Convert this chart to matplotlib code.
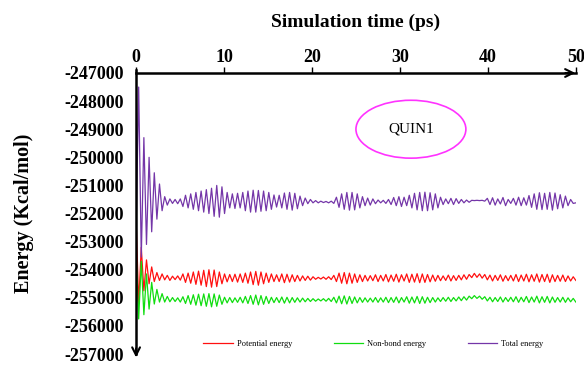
import numpy as np
import matplotlib
matplotlib.use('Agg')
import matplotlib.pyplot as plt
from matplotlib.patches import Ellipse

plt.rcParams['font.family'] = ['Liberation Serif', 'DejaVu Serif']
plt.rcParams['axes.unicode_minus'] = False

# energies, one value per half oscillation (kcal/mol)
potential = [-252150, -255200, -253200, -254750, -253650, -254500, -253900, -254420, -254100, -254380, -254150, -254360, -254200, -254380, -254230, -254350, -254220, -254370,
             -254150, -254450, -254120, -254480, -254080, -254520, -254050, -254550, -254020, -254600, -254000, -254620, -254010, -254600, -254080, -254500, -254150, -254430,
             -254170, -254420, -254160, -254440, -254150, -254450, -254120, -254480, -254080, -254530, -254060, -254550, -254080, -254500, -254120, -254450, -254150, -254420,
             -254180, -254420, -254150, -254460, -254160, -254440, -254180, -254420, -254200, -254400, -254220, -254380, -254230, -254370, -254250, -254340, -254270, -254330,
             -254260, -254340, -254250, -254350, -254200, -254420, -254120, -254480, -254100, -254500, -254120, -254480, -254150, -254450, -254180, -254420, -254200, -254400,
             -254210, -254390, -254180, -254420, -254200, -254400, -254170, -254430, -254190, -254410, -254160, -254440, -254180, -254400, -254150, -254450, -254160, -254440,
             -254140, -254460, -254150, -254450, -254170, -254430, -254190, -254410, -254200, -254390, -254220, -254380, -254190, -254400, -254210, -254380, -254200, -254360,
             -254180, -254340, -254170, -254280, -254130, -254270, -254150, -254300, -254170, -254360, -254190, -254400, -254200, -254380, -254180, -254410, -254210, -254390,
             -254200, -254400, -254170, -254420, -254190, -254400, -254160, -254430, -254180, -254410, -254150, -254440, -254170, -254420, -254160, -254450, -254180, -254420,
             -254200, -254410, -254190, -254420, -254220, -254400, -254250, -254380]

nonbond = [-253400, -255750, -253700, -255600, -254150, -255400, -254450, -255220, -254700, -255150, -254850, -255150, -254950, -255140, -254990, -255130, -255000, -255150,
           -254960, -255200, -254920, -255230, -254890, -255260, -254870, -255280, -254860, -255300, -254850, -255320, -254860, -255300, -254900, -255230, -254980, -255180,
           -254990, -255170, -255000, -255160, -254980, -255180, -254950, -255200, -254920, -255230, -254900, -255250, -254920, -255230, -254950, -255200, -254980, -255170,
           -254990, -255170, -254970, -255190, -254980, -255180, -254990, -255160, -255000, -255150, -255010, -255140, -255020, -255130, -255030, -255120, -255040, -255110,
           -255030, -255120, -255020, -255130, -254980, -255180, -254940, -255210, -254930, -255220, -254950, -255200, -254970, -255180, -254990, -255160, -255000, -255150,
           -255010, -255150, -254990, -255160, -255000, -255150, -254980, -255170, -254990, -255160, -254970, -255180, -254990, -255150, -254960, -255190, -254970, -255180,
           -254950, -255200, -254960, -255190, -254980, -255170, -254990, -255150, -255000, -255130, -254990, -255120, -254980, -255130, -254990, -255110, -254970, -255100,
           -254960, -255080, -254940, -255030, -254920, -255020, -254940, -255050, -254960, -255110, -254980, -255140, -254990, -255130, -254970, -255150, -254990, -255130,
           -254980, -255140, -254960, -255160, -254980, -255140, -254950, -255170, -254970, -255150, -254940, -255180, -254960, -255160, -254950, -255180, -254970, -255160,
           -254990, -255150, -254980, -255160, -255000, -255140, -255020, -255150]

total = [-252700, -247500, -253550, -249300, -253100, -250000, -252650, -250550, -252200, -250950, -251900, -251400, -251700, -251480, -251640, -251500, -251650, -251480,
         -251750, -251350, -251800, -251300, -251850, -251250, -251900, -251200, -251950, -251150, -252000, -251100, -252100, -251000, -252130, -251050, -252000, -251250,
         -251800, -251300, -251820, -251280, -251800, -251250, -251900, -251200, -251950, -251170, -251950, -251180, -251920, -251200, -251900, -251250, -251850, -251340,
         -251770, -251350, -251800, -251270, -251850, -251250, -251880, -251280, -251830, -251380, -251720, -251450, -251650, -251500, -251620, -251540, -251620, -251560,
         -251610, -251570, -251620, -251560, -251640, -251420, -251780, -251300, -251850, -251250, -251880, -251250, -251870, -251300, -251800, -251400, -251720, -251450,
         -251700, -251480, -251650, -251520, -251620, -251530, -251640, -251500, -251680, -251430, -251720, -251400, -251750, -251420, -251720, -251350, -251800, -251280,
         -251870, -251250, -251900, -251240, -251900, -251260, -251870, -251300, -251800, -251420, -251680, -251480, -251650, -251460, -251680, -251470, -251640, -251500,
         -251620, -251520, -251600, -251530, -251540, -251530, -251540, -251530, -251560, -251460, -251680, -251440, -251700, -251480, -251660, -251430, -251720, -251500,
         -251640, -251460, -251700, -251420, -251720, -251440, -251700, -251360, -251780, -251300, -251850, -251260, -251860, -251280, -251850, -251250, -251880, -251270,
         -251830, -251330, -251800, -251380, -251720, -251500, -251640, -251620]

x_ticks = [0, 10, 20, 30, 40, 50]
y_ticks = list(range(-257000, -246000, 1000))

t = np.linspace(0, 50, len(total))

fig = plt.figure(figsize=(5.84, 3.65), dpi=100)
ax = fig.add_axes([0.233, 0.030, 0.753, 0.770])

ax.plot(t, potential, color='#FF1010', lw=0.9, label='Potential energy')
ax.plot(t, nonbond, color='#10DD10', lw=0.9, label='Non-bond energy')
ax.plot(t, total, color='#7436A8', lw=0.9, label='Total energy')

ax.set_xlim(0, 50)
ax.set_ylim(-257000, -247000)
ax.set_xticks(x_ticks)
ax.set_yticks(y_ticks)
ax.set_yticklabels([str(v) for v in y_ticks])
ax.xaxis.tick_top()
ax.tick_params(axis='x', direction='out', length=4, width=1, pad=1, labelsize=13)
ax.tick_params(axis='y', length=0, pad=9, labelsize=13)
for lab in ax.get_xticklabels() + ax.get_yticklabels():
    lab.set_fontweight('bold')

for s in ['bottom', 'right']:
    ax.spines[s].set_visible(False)
for s in ['top', 'left']:
    ax.spines[s].set_linewidth(1.8)
ax.spines['left'].set_bounds(-257000, -246900)

# arrow heads on the two axes
ax.annotate('', xy=(1.005, 1.0), xytext=(0.97, 1.0), xycoords='axes fraction',
            arrowprops=dict(arrowstyle='->', lw=1.5, color='black', mutation_scale=14))
ax.annotate('', xy=(0.0, -0.022), xytext=(0.0, 0.03), xycoords='axes fraction',
            arrowprops=dict(arrowstyle='->', lw=1.5, color='black', mutation_scale=14))

ax.xaxis.set_label_position('top')
ax.set_xlabel('Simulation time (ps)', fontsize=14, fontweight='bold', labelpad=16)
ax.set_ylabel('Energy (Kcal/mol)', fontsize=14.5, fontweight='bold', labelpad=22)

ell = Ellipse((0.625, 0.80), 0.25, 0.206, transform=ax.transAxes,
              facecolor='none', edgecolor='#FF33FF', lw=1.2)
ax.add_patch(ell)
ax.text(0.625, 0.80, 'QUIN1', transform=ax.transAxes, ha='center', va='center', fontsize=11)

ax.legend(loc='lower center', bbox_to_anchor=(0.54, -0.005), ncol=3, frameon=False,
          fontsize=6, handlelength=3.5, columnspacing=5, handletextpad=0.5)

fig.savefig('out.png', dpi=100)
